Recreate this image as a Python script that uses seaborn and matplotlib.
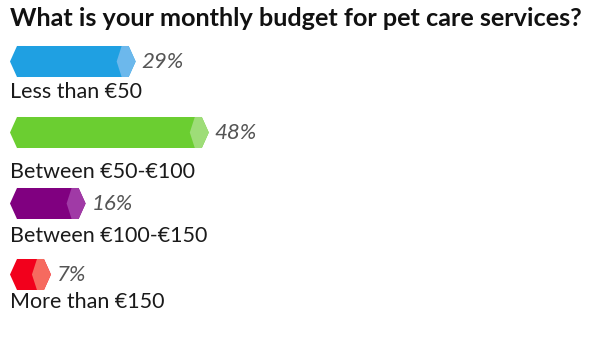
import numpy as np
import pandas as pd
import matplotlib
matplotlib.use("Agg")
import matplotlib.pyplot as plt
from matplotlib.patches import Polygon
import seaborn as sns

# survey answers
title = "What is your monthly budget for pet care services?"
categories = ["Less than €50", "Between €50-€100", "Between €100-€150", "More than €150"]
shares = [29, 48, 16, 7]
colors = ["#1fa0e2", "#6bce31", "#800080", "#f2001c"]
tip_colors = ["#6cb8ec", "#9edd78", "#a03aa6", "#f66a5f"]

df = pd.DataFrame({"answer": categories, "share": shares})

sns.set_theme(style="white")
plt.rcParams["font.family"] = ["Lato", "DejaVu Sans"]

W, H = 600, 351
fig = plt.figure(figsize=(W / 100, H / 100), dpi=100)
ax = fig.add_axes([0, 0, 1, 1])

bar_h = 0.437
sns.barplot(data=df, x="share", y="answer", hue="answer", palette=colors,
            legend=False, width=bar_h, saturation=1, linewidth=0,
            edgecolor="none", ax=ax)

# pixel -> data conversion (x: 3.85 px per %, zero at px 24; y: 71 px per row)
x0_px, x_scale = 24, 3.85
y0_px, y_scale = 61.5, 71
ax.set_xlim(-x0_px / x_scale, (W - x0_px) / x_scale)
ax.set_ylim((H - y0_px) / y_scale, -y0_px / y_scale)
px = 1 / x_scale
ax.axis("off")

label_gaps = [21, 30, 23, 18]  # px from bar bottom to label baseline
half = bar_h / 2
for i, (bar, v) in enumerate(zip(ax.patches, shares)):
    top, bot = i - half, i + half
    left_pt = -14 * px
    outline = Polygon([(left_pt, i), (left_pt + 7 * px, top), (v - 7 * px, top),
                       (v, i), (v - 7 * px, bot), (left_pt + 7 * px, bot)],
                      closed=True, transform=ax.transData)
    bar.set_clip_path(outline)
    ax.add_patch(Polygon([(left_pt, i), (left_pt + 7 * px, top), (1.5 * px, top),
                          (1.5 * px, bot), (left_pt + 7 * px, bot)],
                         closed=True, color=colors[i], lw=0))
    ax.add_patch(Polygon([(v - 19 * px, i), (v - 14 * px, top), (v - 7 * px, top),
                          (v, i), (v - 7 * px, bot), (v - 14 * px, bot)],
                         closed=True, color=tip_colors[i], lw=0))
    ax.text(v + 6 * px, i, f"{v}%", ha="left", va="center", fontsize=16,
            style="italic", color="#555555")
    ax.text(left_pt, bot + label_gaps[i] / y_scale, categories[i], ha="left",
            va="baseline", fontsize=15.5, color="#1a1a1a")

fig.text(10 / W, 1 - 26 / H, title, ha="left", va="baseline", fontsize=18.2,
         fontweight="bold", color="#111111")

fig.savefig("out.png", dpi=100, facecolor="white")
